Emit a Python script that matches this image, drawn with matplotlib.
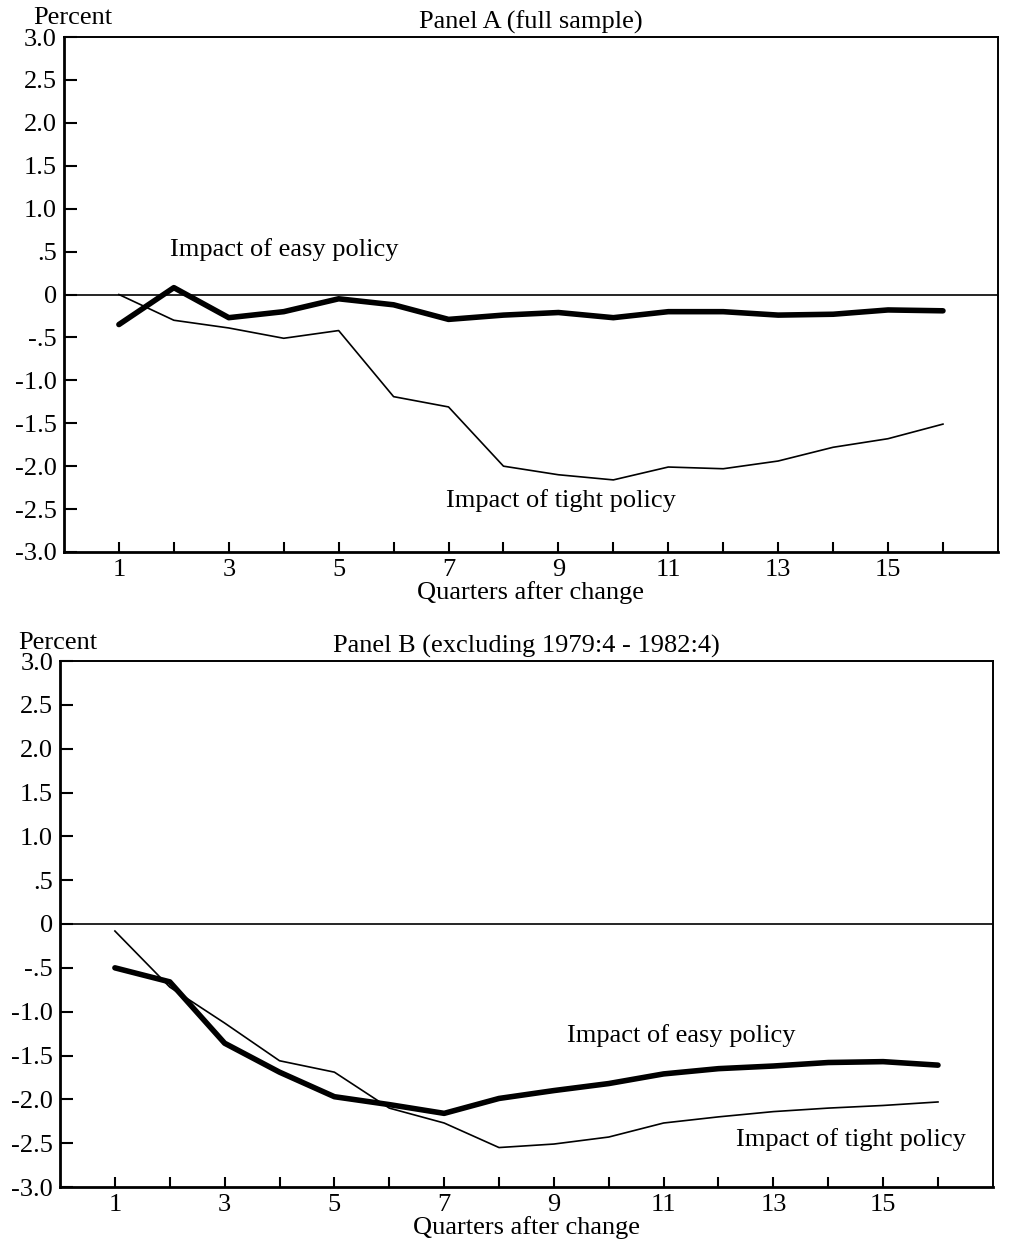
#!/usr/bin/env python3

import numpy as np
import matplotlib
matplotlib.use("Agg")
import matplotlib.pyplot as plt

plt.rcParams['font.family'] = ['Liberation Serif', 'DejaVu Serif']

quarters = np.arange(1, 17)

# Panel A (full sample)
easy_a = [-0.35, 0.08, -0.27, -0.20, -0.05, -0.12, -0.29, -0.24,
          -0.21, -0.27, -0.20, -0.20, -0.24, -0.23, -0.18, -0.19]
tight_a = [0.0, -0.30, -0.39, -0.51, -0.42, -1.19, -1.31, -2.00,
           -2.10, -2.16, -2.01, -2.03, -1.94, -1.78, -1.68, -1.51]

# Panel B (excluding 1979:4 - 1982:4)
easy_b = [-0.50, -0.66, -1.36, -1.69, -1.97, -2.06, -2.16, -1.99,
          -1.90, -1.82, -1.71, -1.65, -1.62, -1.58, -1.57, -1.61]
tight_b = [-0.08, -0.72, -1.13, -1.56, -1.69, -2.10, -2.27, -2.55,
           -2.51, -2.43, -2.27, -2.20, -2.14, -2.10, -2.07, -2.03]

yticks = [3.0, 2.5, 2.0, 1.5, 1.0, 0.5, 0, -0.5, -1.0, -1.5, -2.0, -2.5, -3.0]
ylabels = ["3.0", "2.5", "2.0", "1.5", "1.0", ".5", "0", "-.5",
           "-1.0", "-1.5", "-2.0", "-2.5", "-3.0"]
xlabels = [str(q) if q % 2 == 1 else "" for q in quarters]

fs = 19

def panel(ax, easy, tight, title, easy_pos, tight_pos):
    ax.axhline(0, color="black", lw=1.2, zorder=1)
    ax.plot(quarters, tight, color="black", lw=1.2, zorder=2)
    ax.plot(quarters, easy, color="black", lw=4.0, solid_capstyle="round",
            solid_joinstyle="round", zorder=3)
    ax.set_xlim(0, 17)
    ax.set_ylim(-3, 3)
    ax.set_yticks(yticks)
    ax.set_yticklabels(ylabels, fontsize=fs)
    ax.set_xticks(quarters)
    ax.set_xticklabels(xlabels, fontsize=fs)
    ax.tick_params(axis="y", direction="in", length=9, width=1.5, pad=5)
    ax.tick_params(axis="x", direction="in", length=7, width=1.5, pad=5)
    for s in ["left", "bottom"]:
        ax.spines[s].set_linewidth(2.0)
    for s in ["top", "right"]:
        ax.spines[s].set_linewidth(1.4)
    ax.set_xlabel("Quarters after change", fontsize=fs, labelpad=0)
    ax.set_title(title, fontsize=fs, pad=6)
    ax.text(easy_pos[0], easy_pos[1], "Impact of easy policy",
            fontsize=fs, ha="left", va="center")
    ax.text(tight_pos[0], tight_pos[1], "Impact of tight policy",
            fontsize=fs, ha="left", va="center")

fig = plt.figure(figsize=(10.09, 12.5), dpi=100)

ax1 = fig.add_axes([0.0634, 0.5584, 0.9256, 0.412])
panel(ax1, easy_a, tight_a, "Panel A (full sample)", (1.93, 0.52), (6.96, -2.40))
fig.text(0.033, 0.9856, "Percent", fontsize=fs, ha="left", va="center")

ax2 = fig.add_axes([0.0595, 0.0504, 0.9245, 0.4208])
panel(ax2, easy_b, tight_b, "Panel B (excluding 1979:4 - 1982:4)",
      (9.23, -1.27), (12.31, -2.46))
fig.text(0.018, 0.4855, "Percent", fontsize=fs, ha="left", va="center")

plt.savefig("out.png", dpi=100)
